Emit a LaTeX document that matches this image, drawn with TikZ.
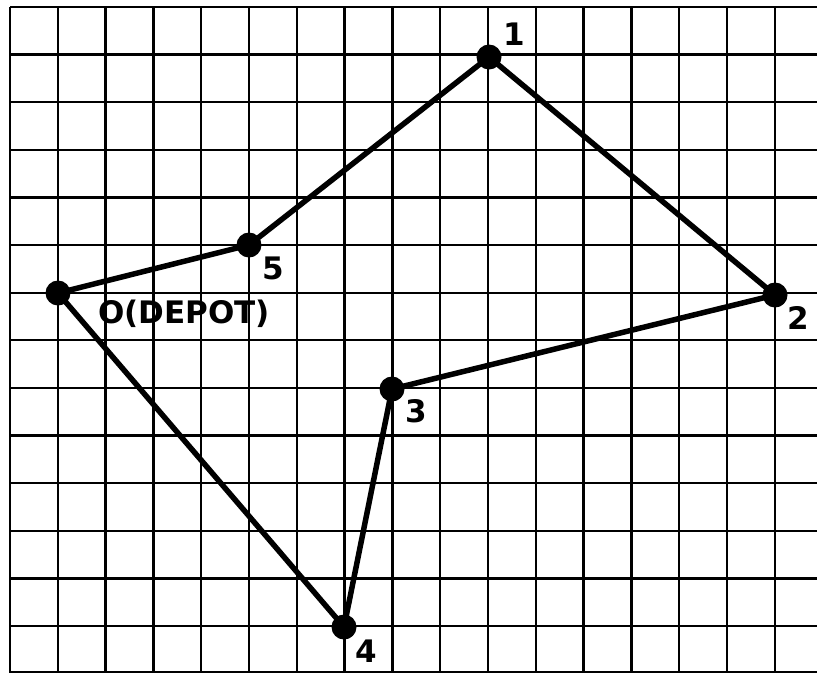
\documentclass[tikz,border=0pt]{standalone}
\usepackage{fontspec}
\setmainfont{DejaVu Sans}
\begin{document}
\begin{tikzpicture}[x=1pt,y=-1pt,
  gridline/.style={line width=2.3pt,black},
  route/.style={line width=5.5pt,black},
  stop/.style={circle,fill=black,inner sep=0pt,minimum size=25pt},
  lbl/.style={inner sep=0pt,font=\fontsize{31}{31}\selectfont\bfseries}]
\useasboundingbox (0,0) rectangle (817,673);
\fill[white] (0,0) rectangle (817,673);
% grid
\foreach \i in {0,...,16} {
  \draw[gridline] ({10+47.8*\i},7) -- ({10+47.8*\i},673);
}
\foreach \j in {0,...,13} {
  \draw[gridline] (10,{7+47.62*\j}) -- (817,{7+47.62*\j});
}
\draw[gridline] (10,672) -- (817,672);
% stops
\node[stop] (o) at (58,293) {};
\node[stop] (s5) at (249,245) {};
\node[stop] (s1) at (489,57) {};
\node[stop] (s2) at (775,295) {};
\node[stop] (s3) at (392,389) {};
\node[stop] (s4) at (344,627) {};
% route
\draw[route] (o.center) -- (s5.center) -- (s1.center) -- (s2.center) -- (s3.center) -- (s4.center) -- (o.center);
% labels
\node[lbl] (l1) at (514,34) {1};
\node[lbl] (l5) at (273,268) {5};
\node[lbl] (lo) at (184,314) {O(DEPOT)};
\node[lbl] (l3) at (416,411) {3};
\node[lbl] (l2) at (798,318) {2};
\node[lbl] (l4) at (366,651) {4};
\end{tikzpicture}
\end{document}
